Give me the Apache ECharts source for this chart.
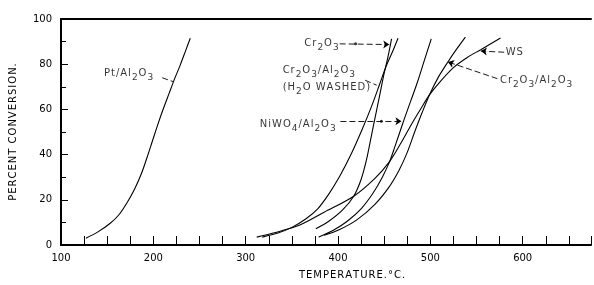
<!DOCTYPE html>
<html>
<head>
<meta charset="utf-8">
<script src="https://cdn.jsdelivr.net/npm/echarts@6/dist/echarts.min.js"></script>
<style>
  html, body { margin: 0; padding: 0; background: #fff; }
  #chart { width: 594px; height: 285px; }
</style>
</head>
<body>
<div id="chart"></div>
<script>
// conversion curves, [temperature °C, percent conversion]
const ptAl2o3 = [[127, 3], [140, 5.8], [153, 9.5], [163, 13.5], [172, 19], [180, 25], [187, 31.5], [193, 38.5],
  [199, 46], [205, 53.5], [211, 60.5], [217, 67], [223, 73.5], [229, 79.5], [235, 86], [240, 91.5]];
const cr2o3Washed = [[318, 3.5], [335, 5.3], [350, 7.8], [365, 11.5], [378, 16], [390, 22.5], [402, 30.5],
  [414, 40], [426, 51], [436, 61], [445, 71], [452, 79], [459, 85.5], [465, 91.5]];
const cr2o3 = [[376, 7.2], [390, 10.5], [405, 15.5], [417, 21.6], [425, 29], [431, 38], [436, 48],
  [441, 58], [446, 68], [450, 76], [454, 83], [458, 91.2]];
const niwo4 = [[379, 3.5], [395, 6.5], [410, 10.5], [425, 16], [438, 23], [448, 30], [456, 37], [462, 44],
  [467, 50], [472, 56], [479, 64], [486, 72], [493, 81], [501, 91.2]];
const cr2o3Al2o3 = [[385, 4.3], [400, 6.5], [420, 11], [440, 18], [455, 25.5], [466, 33], [475, 41],
  [483, 50], [491, 58.5], [499, 66.4], [509, 74.5], [519, 81], [529, 87], [538, 92]];
const ws = [[312, 3.5], [330, 5.3], [358, 8.7], [385, 14.5], [417, 21.6], [440, 29.5], [456, 37], [468, 45],
  [479, 53], [490, 60.5], [499, 66.4], [510, 72], [525, 78.5], [540, 83], [555, 86.5], [576, 91.6]];

// curve labels: [temperature, conversion, text]
const labelTexts = [
  [146, 75.8, 'Pt/Al₂O₃'],
  [363, 89.2, 'Cr₂O₃'],
  [339.5, 73.4, 'Cr₂O₃/Al₂O₃\n(H₂O WASHED)'],
  [314.8, 53.2, 'NiWO₄/Al₂O₃'],
  [581, 85.3, 'WS'],
  [574.8, 72.7, 'Cr₂O₃/Al₂O₃']
];
// leader lines from label to curve, and whether they end in an arrow
const leaders = [
  [[209.6, 74], [221.4, 72.3], false],
  [[401.8, 89], [455.5, 88.7], true],
  [[429.4, 72.9], [441.9, 70.7], false],
  [[402.6, 54.8], [468.7, 54.8], true],
  [[580, 85.3], [554.7, 85.8], true],
  [[572.6, 73.6], [519, 81], true]
];
const leaderDots = [[419, 89], [447, 54.8]];

const ink = '#000';
const font = 'DejaVu Sans';
const HAIR = '\u200A';
const SUBS = '₀₁₂₃₄₅₆₇₈₉';

// spread letters a little, the original lettering is wide
function spaced(s) {
  return [...s].join(HAIR);
}

// turn unicode subscripts into rich-text tokens so they sit low and full size
function chem(text) {
  return text.split('\n').map(line => {
    let out = '';
    let run = '';
    for (const ch of line) {
      const i = SUBS.indexOf(ch);
      if (i >= 0) {
        if (run) out += '{n|' + spaced(run) + HAIR + '}';
        run = '';
        out += '{s|' + i + HAIR + '}';
      } else {
        run += ch;
      }
    }
    if (run) out += '{n|' + spaced(run) + '}';
    return out;
  }).join('\n');
}

function curve(name, data) {
  return {
    name: name, type: 'line', data: data, smooth: 0.3, symbol: 'none',
    lineStyle: {color: ink, width: 1.1}, silent: true
  };
}

const chart = echarts.init(document.getElementById('chart'));
chart.setOption({
  animation: false,
  backgroundColor: '#fff',
  // the original is cut off on the right, so the axis just runs to the edge
  grid: {left: 60, right: 0, top: 19, bottom: 35},
  xAxis: [{
    type: 'value', min: 100, max: 674, interval: 100,
    name: spaced('TEMPERATURE.°C.'), nameLocation: 'middle', nameGap: 25,
    nameTextStyle: {color: ink, fontFamily: font, fontSize: 10, padding: [0, 0, 0, 52]},
    axisLine: {lineStyle: {color: ink, width: 2}},
    axisTick: {inside: true, length: 9, lineStyle: {color: ink, width: 1}},
    minorTick: {show: true, splitNumber: 4, length: 9, lineStyle: {color: ink, width: 1}},
    axisLabel: {color: ink, fontFamily: font, fontSize: 10, margin: 8,
      formatter: v => (v % 100 === 0 ? String(v) : '')},
    splitLine: {show: false}
  }, {
    type: 'value', position: 'top', min: 100, max: 674,
    axisLine: {show: true, lineStyle: {color: ink, width: 2}},
    axisTick: {show: false}, axisLabel: {show: false}, splitLine: {show: false}
  }],
  yAxis: {
    type: 'value', min: 0, max: 100, interval: 20,
    name: spaced('PERCENT CONVERSION.'), nameLocation: 'middle', nameGap: 43, nameRotate: 90,
    nameTextStyle: {color: ink, fontFamily: font, fontSize: 10},
    axisLine: {show: true, lineStyle: {color: ink, width: 2}},
    axisTick: {inside: true, length: 7, lineStyle: {color: ink, width: 1}},
    minorTick: {show: true, splitNumber: 2, length: 5, lineStyle: {color: ink, width: 1}},
    axisLabel: {color: ink, fontFamily: font, fontSize: 10, margin: 9},
    splitLine: {show: false}
  },
  series: [
    curve('Pt/Al2O3', ptAl2o3),
    curve('Cr2O3/Al2O3 (H2O washed)', cr2o3Washed),
    curve('Cr2O3', cr2o3),
    curve('NiWO4/Al2O3', niwo4),
    curve('Cr2O3/Al2O3', cr2o3Al2o3),
    curve('WS', ws),
    {
      type: 'lines', coordinateSystem: 'cartesian2d', silent: true,
      data: leaders.map(l => ({
        coords: [l[0], l[1]],
        symbol: ['none', l[2] ? 'arrow' : 'none'], symbolSize: 6
      })),
      lineStyle: {color: ink, width: 0.9, type: [6, 3], opacity: 1}
    },
    {
      type: 'scatter', data: leaderDots, symbolSize: 3, silent: true,
      itemStyle: {color: ink}
    },
    {
      type: 'scatter', silent: true, symbolSize: 1,
      itemStyle: {color: 'rgba(0,0,0,0)'},
      data: labelTexts.map(t => ({value: [t[0], t[1]], name: t[2]})),
      label: {
        show: true, position: 'right', distance: 0,
        formatter: p => chem(p.name),
        rich: {
          n: {color: ink, fontFamily: font, fontSize: 10, lineHeight: 17, verticalAlign: 'middle'},
          s: {color: ink, fontFamily: font, fontSize: 9, lineHeight: 9, verticalAlign: 'bottom'}
        }
      }
    }
  ]
});
</script>
</body>
</html>
